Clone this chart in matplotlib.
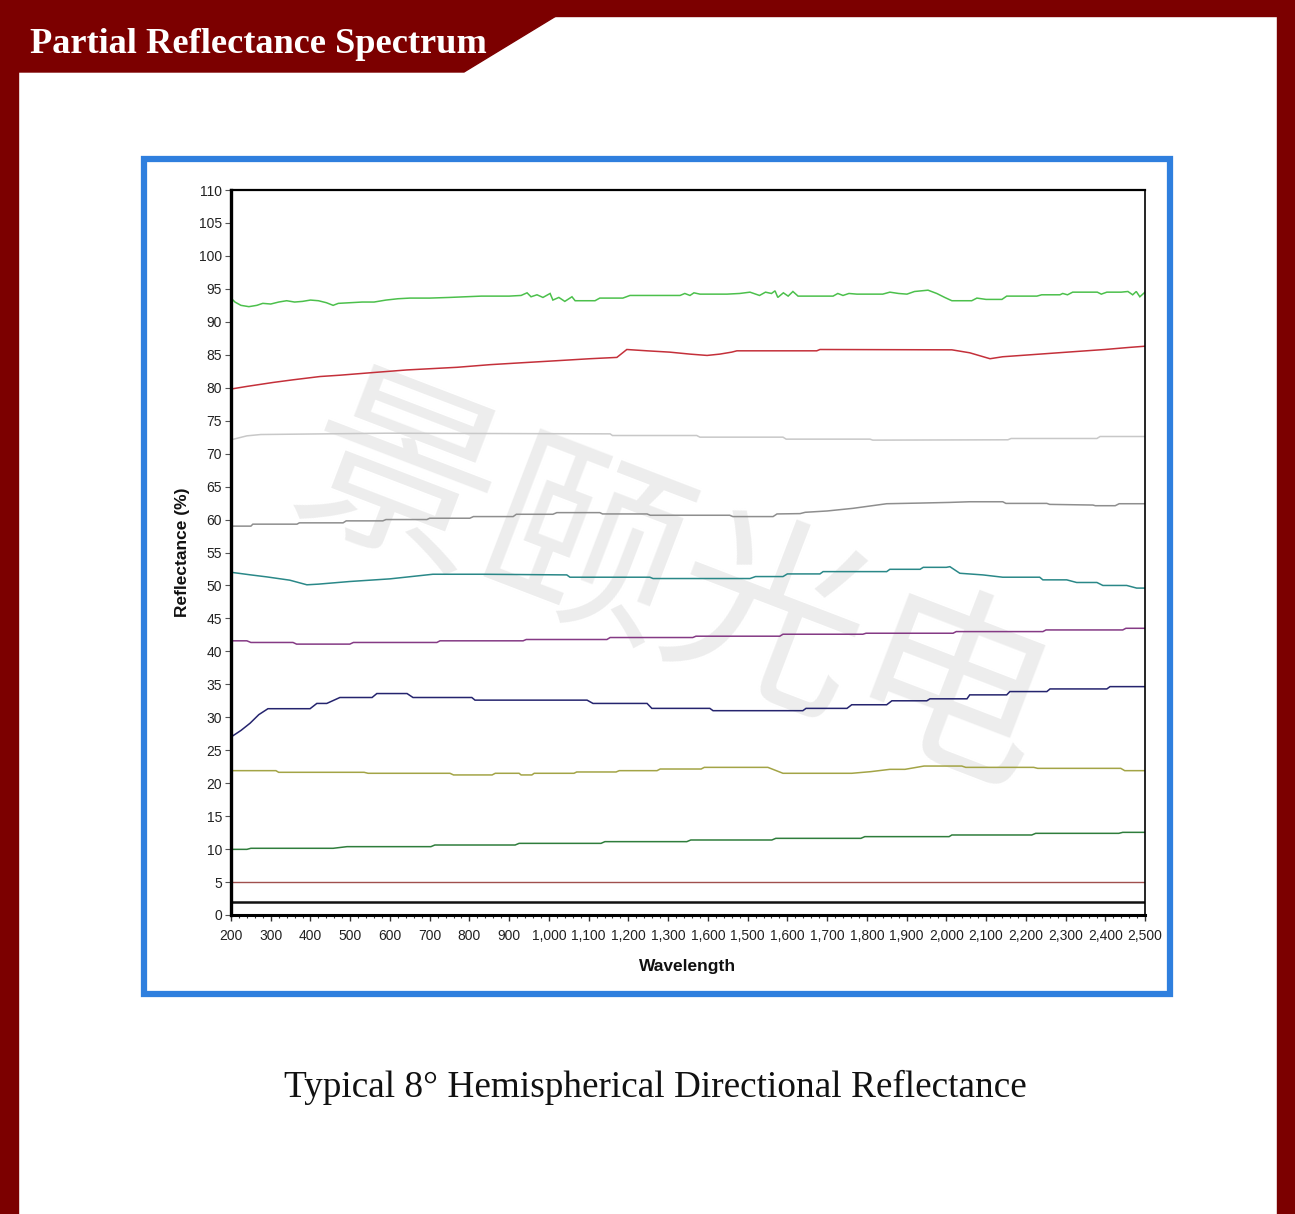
import matplotlib
matplotlib.use("Agg")
import matplotlib.pyplot as plt
from matplotlib.patches import Rectangle, Polygon
from matplotlib.ticker import FixedLocator, MultipleLocator

# ---- data (wavelength, reflectance %) ----
green_wl = [200, 210, 225, 245, 265, 280, 300, 320, 340, 360, 380, 400, 420, 440, 457, 470,
            500, 530, 560, 590, 620, 650, 700, 750, 790, 830, 870, 900, 930, 945, 955, 970,
            985, 1003, 1010, 1025, 1040, 1058, 1066, 1116, 1128, 1186, 1204, 1330, 1342, 1355,
            1365, 1380, 1448, 1480, 1506, 1530, 1545, 1560, 1569, 1576, 1590, 1602, 1614, 1627,
            1715, 1727, 1740, 1755, 1775, 1840, 1858, 1880, 1901, 1920, 1954, 1976, 1996, 2014,
            2064, 2077, 2100, 2140, 2152, 2228, 2240, 2286, 2293, 2305, 2318, 2380, 2390, 2404,
            2440, 2457, 2469, 2478, 2487, 2500]
green_r = [93.6, 93.0, 92.5, 92.3, 92.5, 92.8, 92.7, 93.0, 93.2, 93.0, 93.1, 93.3, 93.2, 92.9, 92.5, 92.8,
           92.9, 93.0, 93.0, 93.3, 93.5, 93.6, 93.6, 93.7, 93.8, 93.9, 93.9, 93.9, 94.0, 94.4, 93.8, 94.1,
           93.7, 94.3, 93.3, 93.7, 93.1, 93.8, 93.2, 93.2, 93.6, 93.6, 94.0, 94.0, 94.3, 94.0,
           94.4, 94.2, 94.2, 94.3, 94.5, 94.0, 94.5, 94.3, 94.7, 93.7, 94.4, 93.9, 94.6, 93.9,
           93.9, 94.3, 94.0, 94.3, 94.2, 94.2, 94.5, 94.3, 94.2, 94.6, 94.8, 94.3, 93.7, 93.2,
           93.2, 93.6, 93.4, 93.4, 93.9, 93.9, 94.1, 94.1, 94.3, 94.1, 94.5, 94.5, 94.2, 94.5,
           94.5, 94.6, 94.1, 94.6, 93.8, 94.5]

red_wl = [200, 240, 306, 356, 424, 474, 557, 643, 769, 852, 935, 1020, 1103, 1171, 1196, 1247,
          1304, 1355, 1398, 1430, 1460, 1473, 1674, 1682, 2014, 2059, 2110, 2142, 2235, 2328,
          2399, 2457, 2500]
red_r = [79.8, 80.2, 80.8, 81.2, 81.7, 81.9, 82.3, 82.7, 83.1, 83.5, 83.8, 84.1, 84.4, 84.6, 85.8, 85.6,
         85.4, 85.1, 84.9, 85.1, 85.4, 85.6, 85.6, 85.8, 85.75, 85.3, 84.4, 84.7, 85.1, 85.5,
         85.8, 86.1, 86.3]

lgray_wl = [200, 240, 275, 590, 1154, 1160, 1372, 1380, 1589, 1597, 1808, 1815, 2155, 2163, 2379, 2387, 2500]
lgray_r = [72.1, 72.7, 72.9, 73.1, 73.0, 72.75, 72.75, 72.5, 72.5, 72.2, 72.2, 72.05, 72.1, 72.3, 72.3, 72.6, 72.6]

gray_wl = [200, 250, 255, 366, 372, 482, 490, 582, 590, 693, 700, 801, 810, 910, 918, 1010, 1020,
           1128, 1135, 1247, 1255, 1455, 1463, 1564, 1574, 1632, 1645, 1700, 1765, 1850, 1934,
           2009, 2059, 2142, 2150, 2253, 2260, 2369, 2375, 2425, 2435, 2500]
gray_r = [59.0, 59.0, 59.3, 59.3, 59.5, 59.5, 59.8, 59.8, 60.0, 60.0, 60.2, 60.2, 60.45, 60.45, 60.8, 60.8, 61.05,
          61.05, 60.85, 60.85, 60.65, 60.65, 60.45, 60.45, 60.85, 60.9, 61.1, 61.3, 61.7, 62.4, 62.5,
          62.6, 62.7, 62.7, 62.45, 62.45, 62.3, 62.2, 62.1, 62.1, 62.4, 62.4]

teal_wl = [200, 250, 290, 348, 391, 420, 499, 600, 708, 834, 1045, 1053, 1254, 1262, 1506, 1520,
           1589, 1600, 1682, 1690, 1850, 1858, 1934, 1942, 2000, 2009, 2034, 2092, 2142, 2235,
           2243, 2303, 2328, 2379, 2394, 2454, 2479, 2500]
teal_r = [52.0, 51.6, 51.3, 50.8, 50.1, 50.2, 50.6, 51.0, 51.7, 51.7, 51.6, 51.25, 51.25, 51.05, 51.05, 51.35,
          51.35, 51.75, 51.75, 52.1, 52.1, 52.45, 52.45, 52.75, 52.75, 52.85, 51.85, 51.6, 51.25, 51.25,
          50.85, 50.85, 50.45, 50.45, 50.0, 50.0, 49.6, 49.6]

purple_wl = [200, 240, 250, 356, 365, 499, 508, 718, 726, 935, 943, 1146, 1154, 1362, 1370, 1581,
             1589, 1790, 1798, 2017, 2025, 2243, 2251, 2444, 2452, 2500]
purple_r = [41.6, 41.6, 41.35, 41.35, 41.1, 41.1, 41.35, 41.35, 41.6, 41.6, 41.8, 41.8, 42.1, 42.1, 42.3, 42.3,
            42.6, 42.6, 42.75, 42.75, 43.0, 43.0, 43.25, 43.25, 43.5, 43.5]

navy_wl = [200, 225, 248, 270, 293, 399, 416, 441, 474, 555, 567, 643, 658, 806, 814, 1096, 1111,
           1247, 1259, 1405, 1413, 1639, 1647, 1750, 1762, 1850, 1863, 1951, 1959, 2052, 2059,
           2152, 2160, 2253, 2261, 2404, 2412, 2500]
navy_r = [27.0, 28.0, 29.1, 30.4, 31.3, 31.3, 32.1, 32.1, 33.0, 33.0, 33.6, 33.6, 33.0, 33.0, 32.6, 32.6, 32.1,
          32.1, 31.35, 31.35, 31.0, 31.0, 31.35, 31.35, 31.9, 31.9, 32.5, 32.5, 32.8, 32.8, 33.4,
          33.4, 33.9, 33.9, 34.3, 34.3, 34.65, 34.65]

olive_wl = [200, 313, 320, 535, 545, 751, 760, 857, 865, 925, 930, 957, 963, 1063, 1070, 1169, 1177,
            1272, 1280, 1383, 1391, 1551, 1589, 1762, 1810, 1858, 1896, 1944, 2039, 2049, 2220,
            2230, 2439, 2449, 2500]
olive_r = [21.9, 21.9, 21.65, 21.65, 21.5, 21.5, 21.25, 21.25, 21.5, 21.5, 21.25, 21.25, 21.5, 21.5, 21.7, 21.7, 21.9,
           21.9, 22.15, 22.15, 22.4, 22.4, 21.5, 21.5, 21.75, 22.1, 22.1, 22.6, 22.6, 22.4, 22.4,
           22.25, 22.25, 21.9, 21.9]

dgreen_wl = [200, 240, 250, 457, 492, 703, 713, 915, 925, 1131, 1141, 1347, 1357, 1561, 1571, 1785,
             1795, 2007, 2014, 2215, 2225, 2434, 2444, 2500]
dgreen_r = [9.96, 9.96, 10.12, 10.12, 10.37, 10.37, 10.62, 10.62, 10.87, 10.87, 11.13, 11.13, 11.38, 11.38,
            11.63, 11.63, 11.89, 11.89, 12.14, 12.14, 12.39, 12.39, 12.54, 12.54]

brown_wl = [200, 2500]
brown_r = [4.95, 4.95]
black_wl = [200, 2500]
black_r = [1.9, 1.9]

x_ticks = list(range(200, 2600, 100))
x_tick_labels = ["200", "300", "400", "500", "600", "700", "800", "900", "1,000", "1,100",
                 "1,200", "1,300", "1,600", "1,500", "1,600", "1,700", "1,800", "1,900",
                 "2,000", "2,100", "2,200", "2,300", "2,400", "2,500"]
y_ticks = list(range(0, 115, 5))

series = [
    (green_wl, green_r, "#4cc04c", 1.1),
    (red_wl, red_r, "#c4303a", 1.1),
    (lgray_wl, lgray_r, "#c8c8c8", 1.1),
    (gray_wl, gray_r, "#8e8e8e", 1.1),
    (teal_wl, teal_r, "#2a8888", 1.1),
    (purple_wl, purple_r, "#853a85", 1.1),
    (navy_wl, navy_r, "#25246e", 1.1),
    (olive_wl, olive_r, "#a3a446", 1.1),
    (dgreen_wl, dgreen_r, "#2f7d3c", 1.1),
    (brown_wl, brown_r, "#a0504e", 1.0),
    (black_wl, black_r, "#111111", 1.8),
]

W, H = 1295, 1214
fig = plt.figure(figsize=(W / 100, H / 100), dpi=100)
fig.patch.set_facecolor("white")

# dark red page frame and title tab
frame = "#7c0000"
fig.patches.append(Rectangle((0, 0), 18 / W, 1, transform=fig.transFigure, color=frame, zorder=0))
fig.patches.append(Rectangle((1277 / W, 0), 18 / W, 1, transform=fig.transFigure, color=frame, zorder=0))
fig.patches.append(Rectangle((0, 1 - 16 / H), 1, 16 / H, transform=fig.transFigure, color=frame, zorder=0))
tab = [(18 / W, 1 - 16 / H), (556 / W, 1 - 16 / H), (464 / W, 1 - 72 / H), (18 / W, 1 - 72 / H)]
fig.patches.append(Polygon(tab, closed=True, transform=fig.transFigure, color=frame, zorder=0))
fig.text(30 / W, 1 - 53 / H, "Partial Reflectance Spectrum", color="white",
         fontsize=26.2, fontweight="bold", family="Liberation Serif", ha="left", va="baseline")

# blue box round the chart
fig.patches.append(Rectangle((144 / W, 1 - 994 / H), (1170 - 144) / W, (994 - 159) / H,
                             transform=fig.transFigure, fill=False, edgecolor="#2f7fde",
                             linewidth=4.5, zorder=1))

ax = fig.add_axes([231 / W, 1 - 915 / H, (1145 - 231) / W, (915 - 190) / H])
ax.set_facecolor("white")

# watermark
ax.text(672 / W, 1 - 592 / H, "景颐光电", transform=fig.transFigure, fontsize=142,
        family=["Noto Sans CJK SC", "DejaVu Sans"], weight="light", color="#ededed",
        rotation=-21, ha="center", va="center", rotation_mode="anchor", zorder=0.5)

for wl, r, c, lw in series:
    ax.plot(wl, r, color=c, linewidth=lw, solid_joinstyle="miter", zorder=2)

ax.set_xlim(200, 2500)
ax.set_ylim(0, 110)
ax.xaxis.set_major_locator(FixedLocator(x_ticks))
ax.set_xticklabels(x_tick_labels)
ax.xaxis.set_minor_locator(MultipleLocator(20))
ax.set_yticks(y_ticks)

for lab in ax.get_xticklabels() + ax.get_yticklabels():
    lab.set_fontfamily("Liberation Sans")
    lab.set_fontsize(10)
    lab.set_color("#222222")
ax.tick_params(axis="x", which="major", direction="out", length=4, width=1, color="#333333", pad=6)
ax.tick_params(axis="x", which="minor", direction="out", length=2.2, width=0.8, color="#333333")
ax.tick_params(axis="y", which="major", direction="out", length=4, width=0.8, color="#555555", pad=2.5)

ax.spines["left"].set_linewidth(2.4)
ax.spines["bottom"].set_linewidth(2.2)
ax.spines["top"].set_linewidth(1.6)
ax.spines["right"].set_linewidth(1.2)

ax.set_xlabel("Wavelength", fontsize=12.5, fontweight="bold", family="Liberation Sans",
              labelpad=11.5, color="#111111")
ax.set_ylabel("Reflectance (%)", fontsize=12.5, fontweight="bold", family="Liberation Sans",
              labelpad=6.5, color="#111111")

fig.text(655 / W, 1 - 1097 / H, "Typical 8° Hemispherical Directional Reflectance",
         fontsize=26.8, family="Liberation Serif", ha="center", va="baseline", color="#111111")

fig.savefig("out.png", dpi=100, facecolor="white")
